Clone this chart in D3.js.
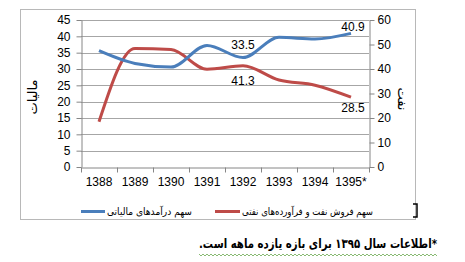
<!DOCTYPE html>
<html>
<head>
<meta charset="utf-8">
<script src="https://cdn.jsdelivr.net/npm/d3@7.8.5/dist/d3.min.js"></script>
<style>
  body { margin: 0; background: #fff; }
  text { font-family: "Liberation Sans", Arial, sans-serif; fill: #000; }
  .fa { font-family: "DejaVu Sans", "Noto Sans", sans-serif; direction: rtl; unicode-bidi: embed; }
</style>
</head>
<body>
<svg id="chart" width="465" height="262"></svg>
<script>
// values
const years = ['1388', '1389', '1390', '1391', '1392', '1393', '1394', '1395*'];
const taxShare = [35.6, 31.7, 30.6, 37.2, 33.5, 39.7, 39.2, 40.9];
const oilShare = [18.5, 48.4, 48.0, 39.9, 41.3, 35.5, 33.4, 28.5];
const leftTicks = [0, 5, 10, 15, 20, 25, 30, 35, 40, 45];
const rightTicks = [0, 10, 20, 30, 40, 50, 60];
const taxLabel = 'سهم درآمدهای مالیاتی';
const oilLabel = 'سهم فروش نفت و فرآورده‌های نفتی';
const footnote = '*اطلاعات سال ۱۳۹۵ برای بازه یازده ماهه است.';

const colors = { tax: '#4a7ebb', oil: '#be4b48', axis: '#868686', grid: '#a6a6a6' };
const plot = { left: 81, right: 369, top: 20, bottom: 167 };

const svg = d3.select('#chart');

// outer frame
svg.append('rect')
  .attr('x', 20.5).attr('y', 9.5)
  .attr('width', 395).attr('height', 210)
  .attr('fill', 'none').attr('stroke', '#b8b8b8');

const x = d3.scaleBand().domain(years).range([plot.left, plot.right]);
const cx = d => x(d) + x.bandwidth() / 2;
const yL = d3.scaleLinear().domain([0, 45]).range([plot.bottom, plot.top]);
const yR = d3.scaleLinear().domain([0, 60]).range([plot.bottom, plot.top]);

// gridlines
svg.append('g')
  .selectAll('line')
  .data(leftTicks.filter(d => d > 0))
  .enter()
  .append('line')
  .attr('x1', plot.left).attr('x2', plot.right)
  .attr('y1', d => Math.round(yL(d)) + 0.5)
  .attr('y2', d => Math.round(yL(d)) + 0.5)
  .attr('stroke', colors.grid);

// left axis
const gL = svg.append('g')
  .attr('transform', `translate(${plot.left + 0.5},0)`)
  .call(d3.axisLeft(yL).tickValues(leftTicks).tickSize(5).tickPadding(6).tickSizeOuter(0));

// right axis
const gR = svg.append('g')
  .attr('transform', `translate(${plot.right + 0.5},0)`)
  .call(d3.axisRight(yR).tickValues(rightTicks).tickSize(5).tickPadding(3).tickSizeOuter(0));

// bottom axis: labels at centres, ticks at band edges
const gB = svg.append('g')
  .attr('transform', `translate(0,${plot.bottom + 0.5})`)
  .call(d3.axisBottom(x).tickSize(0).tickPadding(10).tickSizeOuter(0));

gB.selectAll('.edge')
  .data(years.map(d => x(d)).concat([plot.right]))
  .enter()
  .append('line')
  .attr('class', 'edge')
  .attr('x1', d => Math.round(d) + 0.5).attr('x2', d => Math.round(d) + 0.5)
  .attr('y1', 0).attr('y2', 5)
  .attr('stroke', colors.axis);

[gL, gR, gB].forEach(g => {
  g.selectAll('.domain').attr('stroke', colors.axis);
  g.selectAll('.tick line').attr('stroke', colors.axis);
  g.selectAll('.tick text').style('font-size', '12px').style('font-family', '"Liberation Sans", Arial, sans-serif').attr('fill', '#000');
});

// axis titles
svg.append('text')
  .attr('class', 'fa')
  .attr('transform', 'translate(37,97) rotate(-90)')
  .attr('text-anchor', 'middle')
  .style('font-size', '13px')
  .text('مالیات');

svg.append('text')
  .attr('class', 'fa')
  .attr('transform', 'translate(398,99) rotate(90)')
  .attr('text-anchor', 'middle')
  .style('font-size', '13px')
  .text('نفت');

// series lines
const lineL = d3.line().x((d, i) => cx(years[i])).y(d => yL(d)).curve(d3.curveMonotoneX);
const lineR = d3.line().x((d, i) => cx(years[i])).y(d => yR(d)).curve(d3.curveMonotoneX);

svg.append('path')
  .datum(oilShare)
  .attr('d', lineR)
  .attr('fill', 'none')
  .attr('stroke', colors.oil)
  .attr('stroke-width', 3)
  .attr('stroke-linejoin', 'round');

svg.append('path')
  .datum(taxShare)
  .attr('d', lineL)
  .attr('fill', 'none')
  .attr('stroke', colors.tax)
  .attr('stroke-width', 3)
  .attr('stroke-linejoin', 'round');

// data labels
const labels = [
  { i: 4, v: taxShare[4], y: yL(taxShare[4]) - 9 },
  { i: 7, v: taxShare[7], y: yL(taxShare[7]) - 2 },
  { i: 4, v: oilShare[4], y: yR(oilShare[4]) + 19 },
  { i: 7, v: oilShare[7], y: yR(oilShare[7]) + 15 }
];

svg.append('g')
  .selectAll('text')
  .data(labels)
  .enter()
  .append('text')
  .attr('x', d => cx(years[d.i]) + (d.i === 7 ? 2 : 0))
  .attr('y', d => d.y)
  .attr('text-anchor', 'middle')
  .style('font-size', '12px')
  .text(d => d.v.toFixed(1));

// legend (rtl text: anchor "start" is the right edge)
const legend = svg.append('g');
legend.append('line')
  .attr('x1', 81).attr('x2', 105).attr('y1', 211.5).attr('y2', 211.5)
  .attr('stroke', colors.tax).attr('stroke-width', 3);
legend.append('text')
  .attr('class', 'fa')
  .attr('x', 192).attr('y', 215)
  .attr('text-anchor', 'start')
  .attr('textLength', 85).attr('lengthAdjust', 'spacingAndGlyphs')
  .style('font-size', '10px')
  .text(taxLabel);
legend.append('line')
  .attr('x1', 215).attr('x2', 240).attr('y1', 211.5).attr('y2', 211.5)
  .attr('stroke', colors.oil).attr('stroke-width', 3);
legend.append('text')
  .attr('class', 'fa')
  .attr('x', 373).attr('y', 215)
  .attr('text-anchor', 'start')
  .attr('textLength', 131).attr('lengthAdjust', 'spacingAndGlyphs')
  .style('font-size', '10px')
  .text(oilLabel);

// cursor bracket at frame edge
svg.append('path')
  .attr('d', 'M413,204 H417 V217 H413')
  .attr('fill', 'none').attr('stroke', '#000').attr('stroke-width', 1.5);

// footnote with spell-check squiggle
svg.append('text')
  .attr('class', 'fa')
  .attr('x', 437).attr('y', 248)
  .attr('text-anchor', 'start')
  .attr('textLength', 238).attr('lengthAdjust', 'spacingAndGlyphs')
  .style('font-size', '13px')
  .style('font-weight', 'bold')
  .text(footnote);

const wave = d3.range(199, 438, 2).map((px, k) => [px, 255 + (k % 2 ? 1 : -1)]);
svg.append('path')
  .attr('d', d3.line()(wave))
  .attr('fill', 'none')
  .attr('stroke', '#6aa84f')
  .attr('stroke-width', 0.8);
</script>
</body>
</html>
